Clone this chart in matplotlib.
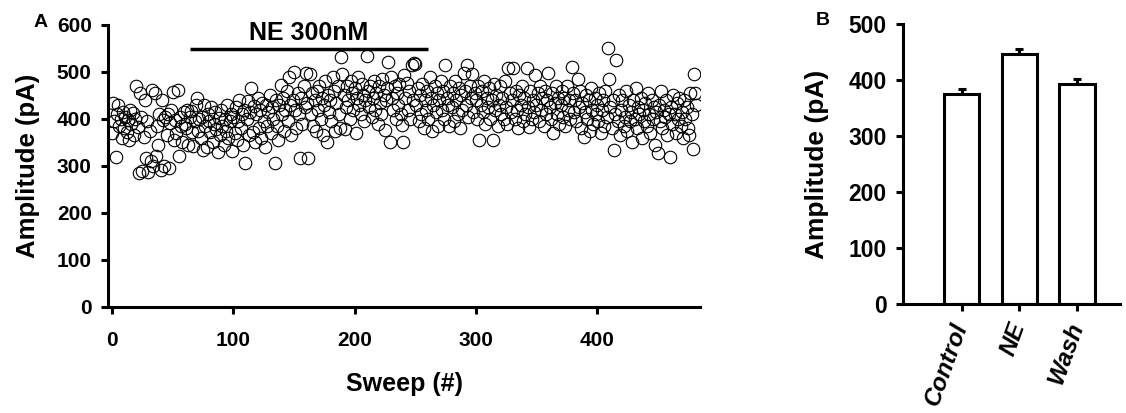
import numpy as np
import matplotlib
matplotlib.use("Agg")
import matplotlib.pyplot as plt

plt.rcParams['font.family'] = ['Liberation Sans', 'DejaVu Sans']
plt.rcParams['font.weight'] = 'bold'

# amplitude per sweep (pA)
amp = [
    370, 433, 395, 320, 410, 430, 385, 400, 360, 415,
    380, 405, 372, 398, 355, 420, 390, 412, 365, 400,
    470, 383, 285, 455, 405, 290, 362, 440, 318, 395,
    288, 375, 310, 462, 300, 455, 322, 385, 345, 410,
    292, 440, 398, 300, 405, 365, 410, 295, 392, 420,
    458, 355, 398, 370, 462, 322, 405, 385, 350, 415,
    390, 380, 420, 345, 405, 418, 372, 342, 395, 430,
    444, 375, 400, 360, 405, 335, 430, 385, 340, 410,
    395, 372, 425, 350, 390, 415, 378, 330, 402, 365,
    420, 385, 345, 400, 375, 430, 360, 395, 410, 331,
    405, 370, 425, 355, 395, 440, 380, 410, 345, 420,
    306, 400, 438, 365, 415, 465, 372, 428, 350, 410,
    445, 380, 420, 360, 435, 395, 340, 430, 385, 415,
    450, 370, 425, 400, 306, 440, 385, 355, 430, 472,
    410, 445, 375, 420, 460, 395, 490, 430, 365, 440,
    500, 420, 380, 455, 410, 316, 445, 390, 470, 425,
    497, 435, 316, 495, 410, 455, 385, 440, 375, 460,
    420, 470, 400, 445, 365, 430, 480, 351, 450, 415,
    440, 395, 490, 460, 375, 435, 470, 410, 380, 532,
    495, 450, 378, 425, 470, 440, 400, 480, 455, 420,
    465, 370, 445, 490, 430, 410, 475, 450, 395, 440,
    535, 460, 425, 470, 405, 445, 480, 420, 455, 390,
    470, 435, 410, 485, 450, 376, 440, 465, 522, 350,
    490, 445, 420, 470, 400, 455, 430, 475, 410, 387,
    352, 494, 445, 476, 420, 460, 400, 515, 440, 520,
    518, 430, 465, 395, 450, 410, 475, 380, 440, 420,
    460, 400, 490, 445, 375, 430, 470, 415, 455, 385,
    440, 480, 420, 460, 400, 515, 445, 430, 385, 470,
    425, 455, 395, 480, 440, 410, 465, 380, 450, 420,
    497, 460, 430, 515, 405, 470, 445, 495, 415, 455,
    440, 400, 470, 355, 430, 460, 415, 480, 390, 445,
    425, 465, 400, 440, 355, 475, 420, 450, 385, 430,
    470, 410, 445, 400, 480, 425, 390, 508, 455, 415,
    440, 508, 400, 460, 420, 380, 450, 430, 470, 395,
    445, 410, 508, 425, 384, 460, 400, 440, 415, 494,
    430, 455, 395, 470, 420, 445, 385, 460, 410, 440,
    497, 425, 400, 455, 370, 435, 470, 410, 445, 390,
    430, 460, 405, 445, 385, 470, 420, 440, 400, 511,
    455, 415, 440, 395, 486, 425, 460, 380, 435, 362,
    415, 450, 400, 440, 375, 465, 420, 390, 445, 410,
    430, 395, 455, 370, 420, 440, 385, 460, 405, 550,
    486, 425, 380, 440, 334, 410, 525, 395, 450, 365,
    420, 440, 385, 405, 460, 375, 430, 395, 415, 350,
    440, 400, 465, 380, 425, 410, 445, 360, 420, 395,
    435, 385, 455, 410, 370, 440, 400, 425, 345, 415,
    327, 430, 395, 460, 380, 420, 405, 440, 365, 410,
    320, 425, 390, 450, 410, 370, 435, 400, 445, 385,
    415, 360, 440, 400, 425, 380, 366, 455, 410, 337,
    495, 455, 430,
]
sweeps = np.arange(len(amp))

drug_start, drug_end = 64, 261
drug_label = "NE 300nM"

groups = ["Control", "NE", "Wash"]
means = [376, 447, 394]
sems = [9, 8, 8]

fig = plt.figure(figsize=(11.26, 4.13), dpi=100)

# panel A
ax = fig.add_axes([0.0963, 0.2567, 0.5254, 0.6828])
ax.plot(sweeps, amp, 'o', ms=9, mfc='none', mec='black', mew=0.8)
ax.plot([drug_start, drug_end], [549, 549], color='black', lw=2.5, solid_capstyle='butt')
ax.text((drug_start + drug_end) / 2, 558, drug_label, ha='center', va='bottom',
        fontsize=18, fontweight='bold')
ax.set_xlim(-3, 485)
ax.set_ylim(0, 600)
ax.set_xticks([0, 100, 200, 300, 400])
ax.set_yticks(range(0, 601, 100))
ax.set_xlabel("Sweep (#)", fontsize=18, fontweight='bold', labelpad=16)
ax.set_ylabel("Amplitude (pA)", fontsize=18.5, fontweight='bold', labelpad=12)
ax.spines['top'].set_visible(False)
ax.spines['right'].set_visible(False)
for s in ['left', 'bottom']:
    ax.spines[s].set_linewidth(2.2)
ax.tick_params(width=2.2, length=5, labelsize=15, pad=7)
ax.tick_params(axis='x', pad=12)
fig.text(0.036, 0.945, "A", fontsize=14, fontweight='bold', ha='center', va='center')

# panel B
bx = fig.add_axes([0.8020, 0.2639, 0.1928, 0.6772])
xpos = np.arange(len(groups))
bx.bar(xpos, means, width=0.61, color='white', edgecolor='black', linewidth=2.2, zorder=2)
bx.errorbar(xpos, means, yerr=[[0] * len(sems), sems], fmt='none', ecolor='black',
            elinewidth=2.2, capsize=3, capthick=2.2, zorder=1)
bx.set_xlim(-1.02, 2.75)
bx.set_ylim(0, 500)
bx.set_yticks(range(0, 501, 100))
bx.set_xticks(xpos)
bx.set_xticklabels(groups, rotation=70, ha='right', va='center', rotation_mode='anchor',
                   fontstyle='italic', fontsize=17.5, fontweight='bold')
bx.set_ylabel("Amplitude (pA)", fontsize=19, fontweight='bold', labelpad=14)
bx.spines['top'].set_visible(False)
bx.spines['right'].set_visible(False)
for s in ['left', 'bottom']:
    bx.spines[s].set_linewidth(2.2)
bx.tick_params(width=2.2, length=5, pad=7)
bx.tick_params(axis='x', pad=9)
bx.tick_params(axis='y', labelsize=16.5)
fig.text(0.731, 0.95, "B", fontsize=14, fontweight='bold', ha='center', va='center')

fig.savefig("out.png", dpi=100)
